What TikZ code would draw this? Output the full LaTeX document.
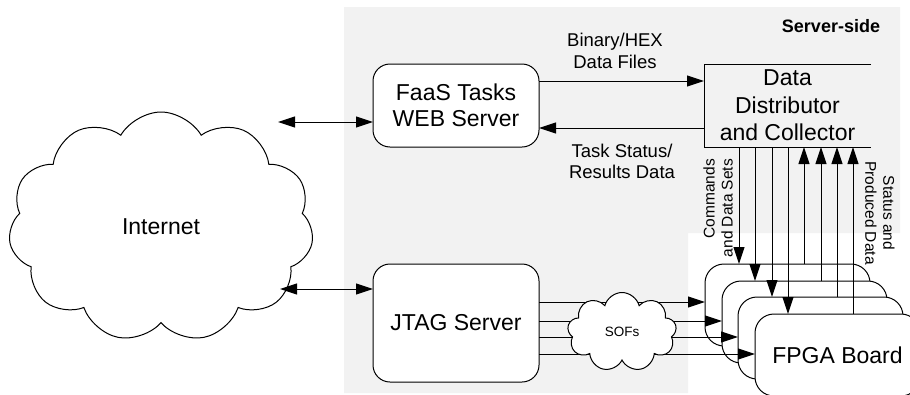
\documentclass[tikz,border=0pt]{standalone}
\usepackage{fontspec}
\setmainfont{Liberation Sans}
\usetikzlibrary{arrows.meta,shapes.symbols}
\definecolor{bggray}{HTML}{F2F2F2}
\begin{document}
\begin{tikzpicture}[x=1pt,y=-1pt,
 every node/.style={inner sep=0pt, outer sep=0pt},
 arr/.style={line width=1pt,-{Triangle[length=17pt,width=11pt]}},
 darr/.style={line width=1pt,{Triangle[length=17pt,width=11pt]}-{Triangle[length=17pt,width=11pt]}},
 box/.style={draw,line width=1pt,fill=white,rounded corners=17pt,anchor=north west},
 big/.style={font=\fontsize{23}{26}\selectfont, align=center},
 lbl/.style={font=\fontsize{18.5}{21.5}\selectfont, align=center},
 small/.style={font=\fontsize{15.5}{18}\selectfont},
 board/.style={draw,line width=1pt,fill=white,rounded corners=19pt,anchor=north west,minimum width=165pt,minimum height=82pt},
 cloudy/.style={cloud,draw,fill=white,line width=1pt},
]
\useasboundingbox (0,0) rectangle (910,394);
\clip (0,0) rectangle (910,394);
% server-side background
\fill[bggray] (344,7) -- (900,7) -- (900,233) -- (688,233) -- (688,393) -- (344,393) -- cycle;
\node[font=\bfseries\fontsize{18}{21}\selectfont] (ss) at (831,26) {Server-side};

% Internet
\node[cloudy, cloud puffs=11, cloud puff arc=120, aspect=1.33, minimum width=305pt, minimum height=230pt, big] (inet) at (161,227) {Internet};

% servers
\node[box, big, minimum width=166pt, minimum height=83pt] (faas) at (373,64) {FaaS Tasks\\WEB Server};
\node[box, big, minimum width=166pt, minimum height=118pt] (jtag) at (373,264) {JTAG Server};

% data distributor (open on the right)
\node[font=\fontsize{23}{27.5}\selectfont, align=center, minimum width=167pt, minimum height=83pt, anchor=north west] (ddc) at (704,64) {Data\\Distributor\\and Collector};
\draw[line width=1pt] (ddc.north east) -- (ddc.north west) -- (ddc.south west) -- (ddc.south east);

% labels
\node[lbl] (l1) at (615,51) {Binary/HEX\\Data Files};
\node[lbl] (l2) at (622,161.5) {Task Status/\\Results Data};

% horizontal arrows
\coordinate (h1) at (0,81);
\coordinate (h2) at (0,128);
\draw[arr] (faas.east |- h1) -- (ddc.west |- h1);
\draw[arr] (ddc.west |- h2) -- (faas.east |- h2);

% internet arrows
\coordinate (i1) at (278,122);
\coordinate (i2) at (280,289);
\draw[darr] (i1) -- (faas.west |- i1);
\draw[darr] (i2) -- (jtag.west |- i2);

% FPGA boards
\node[board] (b1) at (705,264) {};
\node[board] (b2) at (722,281) {};
\node[board] (b3) at (738,297) {};
\node[board, big] (b4) at (755,314) {FPGA Board};

% JTAG lines
\coordinate (j1) at (0,302);
\coordinate (j2) at (0,321);
\coordinate (j3) at (0,337);
\coordinate (j4) at (0,354);
\draw[arr] (jtag.east |- j1) -- (b1.west |- j1);
\draw[arr] (jtag.east |- j2) -- (b2.west |- j2);
\draw[arr] (jtag.east |- j3) -- (b3.west |- j3);
\draw[arr] (jtag.east |- j4) -- (b4.west |- j4);

\node[cloudy, cloud puffs=9, aspect=1.4, minimum width=109pt, minimum height=79pt, font=\fontsize{13.5}{16}\selectfont] (sofs) at (622,332) {SOFs};

% vertical arrows
\coordinate (d1) at (739,0);
\coordinate (d2) at (755,0);
\coordinate (d3) at (772,0);
\coordinate (d4) at (788,0);
\coordinate (u1) at (804,0);
\coordinate (u2) at (821,0);
\coordinate (u3) at (837,0);
\coordinate (u4) at (853,0);
\draw[arr] (ddc.south -| d1) -- (b1.north -| d1);
\draw[arr] (ddc.south -| d2) -- (b2.north -| d2);
\draw[arr] (ddc.south -| d3) -- (b3.north -| d3);
\draw[arr] (ddc.south -| d4) -- (b4.north -| d4);
\draw[arr] (b1.north -| u1) -- (ddc.south -| u1);
\draw[arr] (b2.north -| u2) -- (ddc.south -| u2);
\draw[arr] (b3.north -| u3) -- (ddc.south -| u3);
\draw[arr] (b4.north -| u4) -- (ddc.south -| u4);

% rotated labels
\node[small, rotate=90, anchor=east, align=right] (cmd) at (718,159) {Commands\\and Data Sets};
\node[small, rotate=-90, align=center] (stat) at (880,213) {Status and\\Produced Data};
\end{tikzpicture}
\end{document}
